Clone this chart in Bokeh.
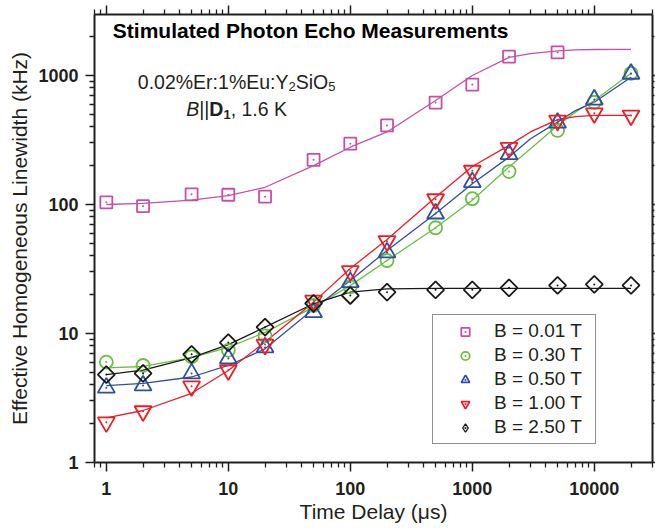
import numpy as np
from bokeh.plotting import figure
from bokeh.models import (LogAxis, FixedTicker, PrintfTickFormatter, Legend, LegendItem,
                          Label, Range1d, CustomJSTickFormatter)
from bokeh.embed import file_html
from bokeh.resources import INLINE

# ---------------- data ----------------
delay = [1, 2, 5, 10, 20, 50, 100, 200, 500, 1000, 2000, 5000, 10000, 20000]
delay_001 = [1, 2, 5, 10, 20, 50, 100, 200, 500, 1000, 2000, 5000]
lw_001 = [104, 97, 120, 119, 115, 222, 296, 410, 617, 850, 1400, 1510]
lw_030 = [6.0, 5.65, 6.6, 7.4, 9.6, 16.5, 23, 36.8, 66, 111, 180, 375, 620, 1040]
lw_050 = [3.8, 3.95, 4.9, 6.4, 7.8, 14.6, 25, 42.5, 85, 149, 245, 430, 650, 1030]
lw_100 = [2.05, 2.5, 3.9, 5.2, 8.2, 18, 30.5, 52, 110, 183, 275, 448, 510, 490]
lw_250 = [4.8, 4.9, 6.9, 8.5, 11.2, 17.1, 19.7, 20.9, 21.8, 21.8, 22.6, 23.6, 24, 23.6]

fit_delay = [1, 2, 5, 10, 20, 50, 100, 200, 500, 1000, 2000, 3000, 5000, 7000, 10000, 20000]
fit_001 = [100, 102, 108, 117, 136, 200, 278, 365, 640, 1000, 1380, 1480, 1550, 1580, 1590, 1595]
fit_030 = [5.42, 5.55, 6.5, 7.8, 10.2, 16, 23.5, 36.8, 66, 108, 195, 270, 410, 520, 640, 1040]
fit_050 = [3.95, 4.1, 4.6, 5.65, 7.6, 15.5, 25.8, 44, 85, 145, 233, 323, 435, 535, 621, 970]
fit_100 = [2.22, 2.53, 3.44, 5.17, 8.6, 17.5, 31.9, 53.5, 114, 197, 287, 365, 455, 480, 490, 490]
fit_250 = [4.8, 5.2, 6.5, 8.2, 11.2, 17.0, 20.9, 22.2, 22.4, 22.4, 22.4, 22.4, 22.4, 22.4, 22.4, 22.4]

labels = ["B = 0.01 T", "B = 0.30 T", "B = 0.50 T", "B = 1.00 T", "B = 2.50 T"]
x_major = [1, 10, 100, 1000, 10000]
y_major = [1, 10, 100, 1000]

C1, C2, C3, C4, C5 = "#C451A6", "#6CBF45", "#2F4FA2", "#EE1C25", "#1A1A1A"
INK = "#231F20"
FONT = "Liberation Sans"

p = figure(width=655, height=528, x_axis_type="log", y_axis_type="log",
           x_range=Range1d(0.8, 30000), y_range=Range1d(1, 2970),
           output_backend="svg", toolbar_location=None,
           min_border_left=94, min_border_right=0, min_border_top=14, min_border_bottom=66,
           background_fill_color="white", border_fill_color="white")
p.outline_line_color = None
p.xgrid.visible = False
p.ygrid.visible = False

def minors(lo, hi):
    out = []
    for d in [0.1, 1, 10, 100, 1000, 10000]:
        for m in range(2, 10):
            v = d * m
            if lo <= v <= hi:
                out.append(v)
    return out

xt = FixedTicker(ticks=x_major, minor_ticks=minors(0.8, 30000))
yt = FixedTicker(ticks=y_major, minor_ticks=minors(1, 3000))

def style_axis(ax, labels_on=True, tick_out=9, minor_out=5):
    ax.axis_line_width = 2
    ax.axis_line_color = INK
    ax.major_tick_line_color = INK
    ax.minor_tick_line_color = INK
    ax.major_tick_line_width = 1.5
    ax.minor_tick_line_width = 1.3
    ax.major_tick_in = 0
    ax.minor_tick_in = 0
    ax.major_tick_out = tick_out
    ax.minor_tick_out = minor_out
    if labels_on:
        ax.major_label_text_font = FONT
        ax.major_label_text_font_style = "bold"
        ax.major_label_text_font_size = "18px"
        ax.major_label_text_color = INK
        ax.formatter = PrintfTickFormatter(format="%d")
        ax.axis_label_text_font = FONT
        ax.axis_label_text_font_style = "normal"
        ax.axis_label_text_font_size = "21px"
        ax.axis_label_text_color = INK
    else:
        ax.formatter = CustomJSTickFormatter(code="return '';")
        ax.major_label_text_font_size = "1px"
        ax.major_label_text_color = None
        ax.major_label_standoff = 0

xa = p.xaxis[0]
ya = p.yaxis[0]
xa.ticker = xt
ya.ticker = yt
style_axis(xa)
style_axis(ya)
xa.axis_label = "Time Delay (μs)"
ya.axis_label = "Effective Homogeneous Linewidth (kHz)"
xa.major_label_standoff = 10
xa.axis_label_standoff = 2
ya.major_label_standoff = 7
ya.axis_label_standoff = 4

top = LogAxis(ticker=FixedTicker(ticks=x_major, minor_ticks=minors(0.8, 30000)))
style_axis(top, labels_on=False, tick_out=9, minor_out=5)
p.add_layout(top, "above")
right = LogAxis(ticker=FixedTicker(ticks=y_major, minor_ticks=minors(1, 3000)))
style_axis(right, labels_on=False, tick_out=3, minor_out=2)
p.add_layout(right, "right")

# ---------------- fit curves ----------------
for fy, c in [(fit_001, C1), (fit_030, C2), (fit_050, C3), (fit_100, C4), (fit_250, C5)]:
    p.line(fit_delay, fy, line_color=c, line_width=1.3)

# ---------------- data markers ----------------
MW = 1.8
r1 = p.scatter(delay_001, lw_001, marker="square", size=12, line_color=C1, fill_color=None, line_width=MW)
d1 = p.scatter(delay_001, lw_001, marker="dot", size=8, line_color=C1, fill_color=C1)
r2 = p.scatter(delay, lw_030, marker="circle", size=13, line_color=C2, fill_color=None, line_width=MW)
d2 = p.scatter(delay, lw_030, marker="dot", size=8, line_color=C2, fill_color=C2)
r3 = p.scatter(delay, lw_050, marker="triangle", size=17, line_color=C3, fill_color=None, line_width=MW)
d3 = p.scatter(delay, lw_050, marker="dot", size=8, line_color=C3, fill_color=C3)
r4 = p.scatter(delay, lw_100, marker="inverted_triangle", size=17, line_color=C4, fill_color=None, line_width=MW)
d4 = p.scatter(delay, lw_100, marker="dot", size=8, line_color=C4, fill_color=C4)
r5 = p.scatter(delay, lw_250, marker="square", angle=np.pi / 4, size=12, line_color=C5, fill_color=None, line_width=MW)
d5 = p.scatter(delay, lw_250, marker="dot", size=8, line_color=C5, fill_color=C5)
# hidden twin used only for the legend (the legend draws markers unrotated)
k5 = p.scatter(delay, lw_250, marker="diamond", size=12, line_color=C5, fill_color=None,
               line_width=1.3, visible=False)

legend = Legend(items=[
    LegendItem(label=labels[0], renderers=[r1, d1]),
    LegendItem(label=labels[1], renderers=[r2, d2]),
    LegendItem(label=labels[2], renderers=[r3, d3]),
    LegendItem(label=labels[3], renderers=[r4, d4]),
    LegendItem(label=labels[4], renderers=[k5, d5]),
], location=(338, 18), border_line_color=INK, border_line_width=1.2,
    background_fill_color="white", background_fill_alpha=1,
    label_text_font=FONT, label_text_font_size="19px", label_text_color=INK,
    glyph_width=54, glyph_height=21, label_height=21, label_standoff=2,
    label_width=96, spacing=2, padding=5, margin=0)
p.add_layout(legend)

# ---------------- annotations ----------------
WID = {
    "normal": {"0": 556, "1": 556, "2": 556, "5": 556, "6": 556, ".": 278, "%": 889, "E": 667,
               "r": 333, ":": 278, "u": 556, "Y": 667, "S": 667, "i": 222, "O": 778, "|": 260,
               ",": 278, " ": 278, "K": 667, "B": 667},
    "bold": {"D": 722, "1": 556},
    "italic": {"B": 667},
}

def text_run(x, y, parts, lift=0, color=INK):
    widths = [sum(WID[st].get(ch, 556) for ch in t) * sz / 1000.0 for (t, sz, st, dy) in parts]
    off = -sum(widths) / 2.0
    for (t, sz, st, dy), w in zip(parts, widths):
        p.add_layout(Label(x=x, y=y, x_offset=off, y_offset=dy + lift, text=t,
                           text_font=FONT, text_font_size=f"{sz}px", text_font_style=st,
                           text_color=color, text_align="left", text_baseline="alphabetic"))
        off += w

p.add_layout(Label(x=1.13, y=1972, y_offset=7, text="Stimulated Photon Echo Measurements",
                   text_font=FONT, text_font_size="21px", text_font_style="bold",
                   text_color="black", text_align="left", text_baseline="alphabetic"))

text_run(11.7, 738, [("0.02%Er:1%Eu:Y", 19.5, "normal", 0), ("2", 13, "normal", -5),
                     ("SiO", 19.5, "normal", 0), ("5", 13, "normal", -5)], lift=11)
text_run(11.7, 440, [("B", 19.5, "italic", 0), ("||", 19.5, "normal", 0), ("D", 19.5, "bold", 0),
                     ("1", 13, "bold", -5), (", 1.6 K", 19.5, "normal", 0)], lift=12)

open("out.html", "w").write(file_html(p, INLINE))
